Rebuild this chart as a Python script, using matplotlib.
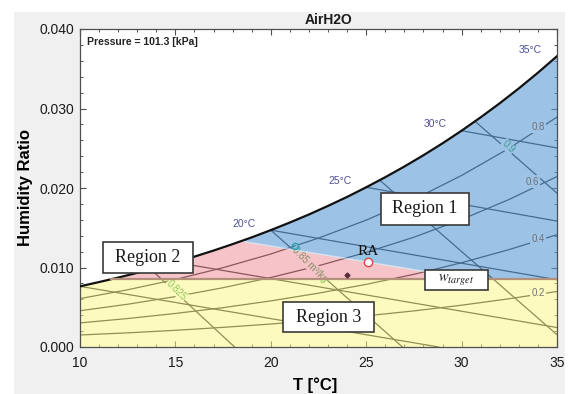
import matplotlib.pyplot as plt
import numpy as np
from matplotlib.patches import Rectangle
from matplotlib.ticker import MultipleLocator, FormatStrFormatter

plt.rcParams['font.family'] = ['Liberation Sans', 'DejaVu Sans']

# saturation curve, read every 1 C
T_sat = list(range(10, 36))
w_sat = [0.00763, 0.00817, 0.00873, 0.00933, 0.00997, 0.01065, 0.01137, 0.01213,
         0.01294, 0.01379, 0.01470, 0.01566, 0.01667, 0.01775, 0.01888, 0.02009,
         0.02136, 0.02270, 0.02412, 0.02562, 0.02721, 0.02889, 0.03066, 0.03253,
         0.03450, 0.03658]

# relative humidity curves on a coarser grid
T_grid = [10, 12.5, 15, 17.5, 20, 22.5, 25, 27.5, 30, 32.5, 35]
w_rh20 = [0.00151, 0.00178, 0.00210, 0.00247, 0.00289, 0.00337,
          0.00392, 0.00454, 0.00526, 0.00607, 0.00699]
w_rh40 = [0.00303, 0.00358, 0.00422, 0.00495, 0.00580, 0.00677,
          0.00788, 0.00914, 0.01060, 0.01226, 0.01413]
w_rh60 = [0.00456, 0.00538, 0.00634, 0.00746, 0.00874, 0.01022,
          0.01190, 0.01381, 0.01604, 0.01857, 0.02144]
w_rh80 = [0.00609, 0.00720, 0.00849, 0.00998, 0.01170, 0.01370,
          0.01596, 0.01856, 0.02158, 0.02501, 0.02892]
rh_labels = ['0.2', '0.4', '0.6', '0.8']

# wet-bulb lines (start on saturation, end on chart edge)
wb_T0 = [10, 15, 20, 25, 30]
wb_w0 = [0.00763, 0.01065, 0.01470, 0.02009, 0.02721]
wb_T1 = [28.8, 35, 35, 35, 35]
wb_w1 = [0.0, 0.00245, 0.00846, 0.01584, 0.02504]

# specific volume lines [m3/kg]
vol_T0 = [13.7, 20.0, 25.7, 30.7]
vol_w0 = [0.0098, 0.0147, 0.0210, 0.0284]
vol_T1 = [18.1, 26.9, 35, 35]
vol_w1 = [0.0, 0.0, 0.00155, 0.01935]

# regions
w_target = 0.0085
w_target_T0 = 11.6
bnd_T = [18.5, 30.6]
bnd_w = [0.0133, 0.0085]

ra_T, ra_w = 25.11, 0.01065
pt_cyan = (21.27, 0.0127)
pt_dark = (23.97, 0.0091)

W, H = 568, 394
fig = plt.figure(figsize=(W / 100, H / 100), dpi=100, facecolor='white')
fig.patches.append(Rectangle((14 / W, 0), 551 / W, 382 / H, transform=fig.transFigure,
                             facecolor='#f0f0f0', edgecolor='none', zorder=-10))
ax_l, ax_r, ax_t, ax_b = 80, 557, 29, 347
ax = fig.add_axes([ax_l / W, 1 - ax_b / H, (ax_r - ax_l) / W, (ax_b - ax_t) / H])
ax.set_xlim(10, 35)
ax.set_ylim(0, 0.040)

line_kw = dict(color='#262626', lw=0.9, zorder=1)

# RH curves
for ws in [w_rh20, w_rh40, w_rh60, w_rh80]:
    ax.plot(T_grid, ws, **line_kw)
# wet-bulb lines
for t0, w0, t1, w1 in zip(wb_T0, wb_w0, wb_T1, wb_w1):
    ax.plot([t0, t1], [w0, w1], **line_kw)
# volume lines
for t0, w0, t1, w1 in zip(vol_T0, vol_w0, vol_T1, vol_w1):
    ax.plot([t0, t1], [w0, w1], **line_kw)

# volume labels sit under the tint
vol_pos = {'0.825': (15.07, 0.00717), '0.85 m³/kg': (22.05, 0.01035), '0.9': (32.45, 0.0252)}
for lab, (tx, ty) in vol_pos.items():
    ax.text(tx, ty, lab, color='#1f9a3c', fontsize=7, rotation=-45, ha='center', va='center',
            rotation_mode='anchor', zorder=1.5,
            bbox=dict(boxstyle='square,pad=0.05', fc='white', ec='none'))

# tinted regions
x = np.linspace(10, 35, 801)
sat = np.interp(x, T_sat, w_sat)
bnd = np.interp(x, bnd_T, bnd_w)
pink_top = np.minimum(sat, bnd)
blue_low = np.maximum(bnd, w_target)
ax.fill_between(x, 0, np.minimum(sat, w_target), color='#fbf77f', alpha=0.5, lw=0, zorder=2)
ax.fill_between(x, w_target, pink_top, where=pink_top > w_target, interpolate=True,
                color='#ec8892', alpha=0.5, lw=0, zorder=2)
ax.fill_between(x, blue_low, sat, where=sat > blue_low, interpolate=True,
                color='#5b9bd5', alpha=0.6, lw=0, zorder=2)
ax.plot(bnd_T, bnd_w, color='white', lw=1.0, alpha=0.5, zorder=2.5)

# saturation curve and target line
ax.plot(T_sat, w_sat, color='#111111', lw=1.6, zorder=3)
ax.plot([w_target_T0, 35], [w_target, w_target], color='#b39079', lw=1.6, zorder=3)

# RH labels at right edge
rh_pos = [(34.0, 0.00675, '#fefbbf'), (34.0, 0.01358, '#9dc3e6'),
          (33.7, 0.0208, '#9dc3e6'), (34.0, 0.0277, '#9dc3e6')]
for lab, (tx, ty, bg) in zip(rh_labels, rh_pos):
    ax.text(tx, ty, lab, color='#6f7275', fontsize=7, ha='center', va='center', zorder=3.5,
            bbox=dict(boxstyle='square,pad=0.15', fc=bg, ec='none'))

# wet-bulb temperature labels
wb_pos = {'20°C': (18.6, 0.0155), '25°C': (23.65, 0.0209), '30°C': (28.6, 0.0281),
          '35°C': (33.6, 0.0374)}
for lab, (tx, ty) in wb_pos.items():
    ax.text(tx, ty, lab, color='#4f4f96', fontsize=7.5, ha='center', va='center', zorder=3.5)

# points
ax.plot(ra_T, ra_w, 'o', ms=6, mfc='white', mec='#e0404a', mew=1.0, zorder=4)
ax.plot(*pt_cyan, 'o', ms=4.5, mfc='none', mec='#2aa0a8', mew=1.0, zorder=4)
ax.plot(*pt_dark, 'D', ms=2.5, color='#5a2a3a', zorder=4)
ax.text(ra_T, 0.01203, 'RA', family='Liberation Serif', fontsize=11, ha='center', va='center',
        color='#111111', zorder=4)

# boxed labels
px_x = 25 / (ax_r - ax_l)
px_y = 0.040 / (ax_b - ax_t)


def boxed(cx, cy, wpx, hpx, text, size, **kw):
    ax.add_patch(Rectangle((cx - wpx / 2 * px_x, cy - hpx / 2 * px_y), wpx * px_x, hpx * px_y,
                           facecolor='white', edgecolor='#3a3a3a', lw=1.2, zorder=5))
    ax.text(cx, cy, text, fontsize=size, ha='center', va='center', zorder=6,
            color='#1a1a1a', **kw)


boxed(28.08, 0.01737, 88, 32, 'Region 1', 13, family='Liberation Serif')
boxed(13.56, 0.0112, 90, 31, 'Region 2', 13, family='Liberation Serif')
boxed(23.02, 0.00377, 91, 30, 'Region 3', 13, family='Liberation Serif')
boxed(29.73, 0.00843, 63, 20, r'$w_{target}$', 10.5, math_fontfamily='stix')

ax.text(0.0147, 0.959, 'Pressure = 101.3 [kPa]', transform=ax.transAxes, fontsize=7.5,
        fontweight='bold', ha='left', va='center', color='#222222')

# axes styling
ax.xaxis.set_major_locator(MultipleLocator(5))
ax.xaxis.set_minor_locator(MultipleLocator(1))
ax.yaxis.set_major_locator(MultipleLocator(0.010))
ax.yaxis.set_minor_locator(MultipleLocator(0.002))
ax.yaxis.set_major_formatter(FormatStrFormatter('%.3f'))
ax.tick_params(which='both', direction='in', top=True, right=True, colors='#505050',
               labelcolor='#1a1a1a', labelsize=10)
ax.tick_params(which='major', length=4, width=0.8)
ax.tick_params(which='minor', length=2.5, width=0.7)
ax.tick_params(axis='x', pad=6.5)
ax.tick_params(axis='y', pad=4)
for s in ax.spines.values():
    s.set_color('#505050')
    s.set_linewidth(0.9)

ax.set_xlabel('T [°C]', fontsize=12, fontweight='bold')
ax.set_ylabel('Humidity Ratio', fontsize=12, fontweight='bold')
ax.xaxis.set_label_coords(0.493, -0.095)
ax.xaxis.label.set_va('top')
ax.yaxis.set_label_coords(-0.098, 0.5)

fig.text(329 / W, 1 - 20 / H, 'AirH2O', fontsize=10, fontweight='bold', ha='center',
         va='center', color='#1a1a1a')

fig.savefig('out.png', dpi=100, facecolor=fig.get_facecolor())
